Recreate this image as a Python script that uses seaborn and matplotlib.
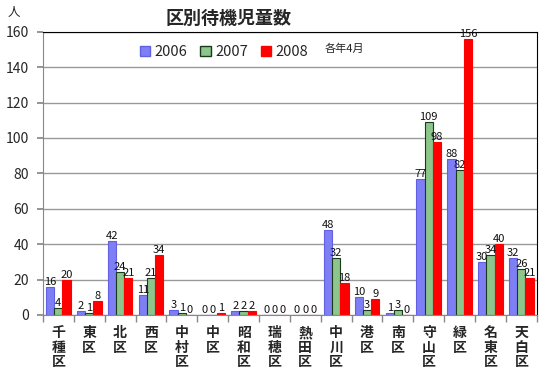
import matplotlib
matplotlib.use("Agg")
import matplotlib.pyplot as plt
import seaborn as sns
import pandas as pd
import numpy as np
from matplotlib.patches import Patch

wards = ["千種区", "東区", "北区", "西区", "中村区", "中区", "昭和区", "瑞穂区",
         "熱田区", "中川区", "港区", "南区", "守山区", "緑区", "名東区", "天白区"]
years = ["2006", "2007", "2008"]
v2006 = [16, 2, 42, 11, 3, 0, 2, 0, 0, 48, 10, 1, 77, 88, 30, 32]
v2007 = [4, 1, 24, 21, 1, 0, 2, 0, 0, 32, 3, 3, 109, 82, 34, 26]
v2008 = [20, 8, 21, 34, 0, 1, 2, 0, 0, 18, 9, 0, 98, 156, 40, 21]
yticks = [0, 20, 40, 60, 80, 100, 120, 140, 160]

sns.set_theme(style="white")
plt.rcParams['font.family'] = ['Noto Sans CJK JP', 'DejaVu Sans']

df = pd.DataFrame({
    "ward": wards * 3,
    "year": [years[0]] * 16 + [years[1]] * 16 + [years[2]] * 16,
    "value": v2006 + v2007 + v2008,
})

colors = ["#7f7ff5", "#8cc68c", "#ff0000"]
edges = ["#6060e0", "#1a3a1a", "#ff0000"]

fig = plt.figure(figsize=(5.5, 3.84), dpi=100)
ax = fig.add_axes([0.078, 0.18, 0.898, 0.737])
sns.barplot(data=df, x="ward", y="value", hue="year", palette=colors,
            width=0.8, ax=ax, legend=False, saturation=1)

for cont, ec in zip(ax.containers, edges):
    for p in cont:
        p.set_edgecolor(ec)
        p.set_linewidth(0.8)
    ax.bar_label(cont, fontsize=8, padding=0, color="#111111")

ax.set_ylim(0, 160)
ax.set_yticks(yticks)
ax.set_yticklabels([str(t) for t in yticks], fontsize=10)
ax.set_xlim(-0.5, 15.5)
ax.yaxis.grid(True, color="#999999", linewidth=1)
ax.set_axisbelow(True)
for s in ax.spines.values():
    s.set_color("#000000")
    s.set_linewidth(0.8)
ax.spines['left'].set_color("#888888")
ax.spines['bottom'].set_color("#888888")

ax.set_xticks(range(16))
ax.set_xticklabels(["\n".join(w) for w in wards], fontsize=10, fontweight="bold",
                   linespacing=1.05, va="top")
ax.tick_params(axis="x", length=0, pad=8)
ax.set_xticks(np.arange(-0.5, 16, 1), minor=True)
ax.tick_params(axis="x", which="minor", length=5, color="#888888", direction="out", bottom=True)
ax.tick_params(axis="y", length=4, color="#888888", left=True, pad=6)
ax.set_xlabel("")
ax.set_ylabel("")

handles = [Patch(facecolor=c, edgecolor=e, label=y) for c, e, y in zip(colors, edges, years)]
leg = ax.legend(handles=handles, loc="upper left", bbox_to_anchor=(0.17, 1.0), ncol=3,
                frameon=False, fontsize=10.5, handlelength=0.7, handleheight=0.7,
                handletextpad=0.3, columnspacing=0.9)
fig.text(0.59, 0.874, "各年4月", fontsize=8, ha="left", va="center")

fig.text(0.415, 0.953, "区別待機児童数", fontsize=13, fontweight="bold", ha="center", va="center")
fig.text(0.025, 0.968, "人", fontsize=9, ha="center", va="center")

fig.savefig("out.png", dpi=100)
